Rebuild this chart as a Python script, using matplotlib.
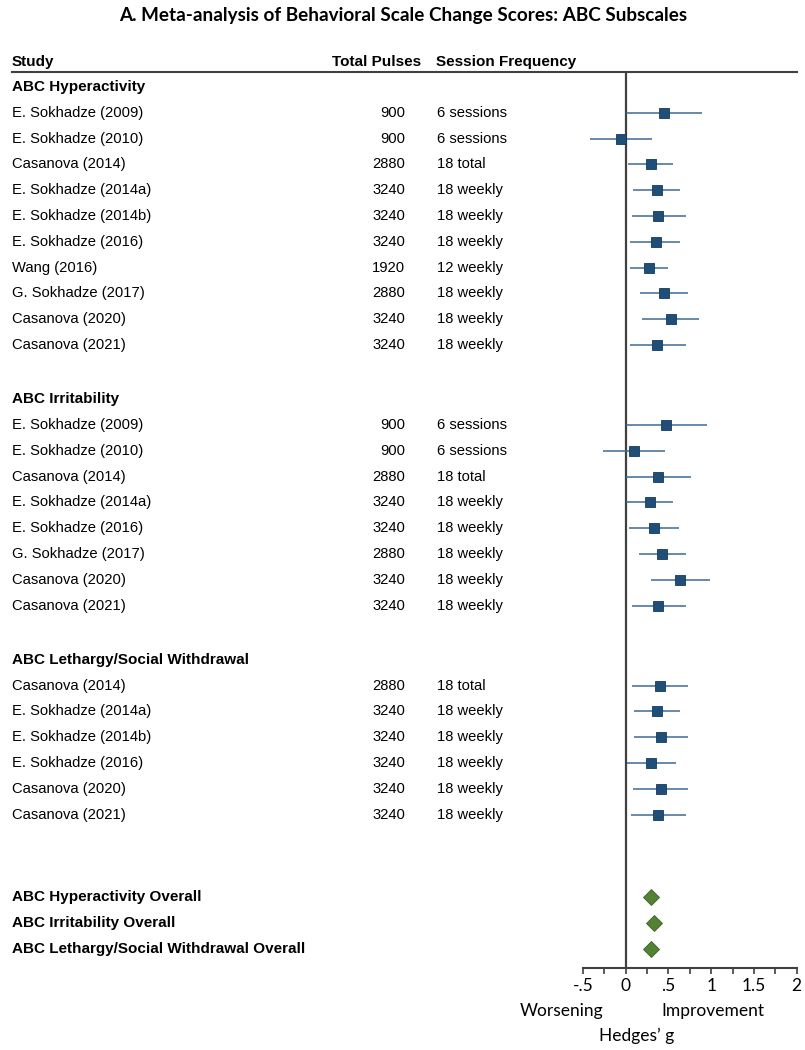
import matplotlib.pyplot as plt
import matplotlib.transforms as mtransforms
from matplotlib.lines import Line2D
import numpy as np

# ABC Hyperactivity
hyper_studies = ['E. Sokhadze (2009)', 'E. Sokhadze (2010)', 'Casanova (2014)',
                 'E. Sokhadze (2014a)', 'E. Sokhadze (2014b)', 'E. Sokhadze (2016)',
                 'Wang (2016)', 'G. Sokhadze (2017)', 'Casanova (2020)', 'Casanova (2021)']
hyper_pulses = [900, 900, 2880, 3240, 3240, 3240, 1920, 2880, 3240, 3240]
hyper_freq = ['6 sessions', '6 sessions', '18 total', '18 weekly', '18 weekly',
              '18 weekly', '12 weekly', '18 weekly', '18 weekly', '18 weekly']
hyper_g = [0.445, -0.06, 0.29, 0.36, 0.38, 0.35, 0.27, 0.45, 0.53, 0.37]
hyper_lo = [0.0, -0.42, 0.03, 0.09, 0.07, 0.05, 0.05, 0.17, 0.19, 0.05]
hyper_hi = [0.89, 0.31, 0.555, 0.63, 0.70, 0.64, 0.49, 0.73, 0.86, 0.70]

# ABC Irritability
irr_studies = ['E. Sokhadze (2009)', 'E. Sokhadze (2010)', 'Casanova (2014)',
               'E. Sokhadze (2014a)', 'E. Sokhadze (2016)', 'G. Sokhadze (2017)',
               'Casanova (2020)', 'Casanova (2021)']
irr_pulses = [900, 900, 2880, 3240, 3240, 2880, 3240, 3240]
irr_freq = ['6 sessions', '6 sessions', '18 total', '18 weekly', '18 weekly',
            '18 weekly', '18 weekly', '18 weekly']
irr_g = [0.47, 0.10, 0.38, 0.28, 0.33, 0.42, 0.63, 0.38]
irr_lo = [0.0, -0.27, 0.0, 0.0, 0.04, 0.15, 0.29, 0.07]
irr_hi = [0.945, 0.465, 0.765, 0.55, 0.625, 0.70, 0.98, 0.71]

# ABC Lethargy/Social Withdrawal
leth_studies = ['Casanova (2014)', 'E. Sokhadze (2014a)', 'E. Sokhadze (2014b)',
                'E. Sokhadze (2016)', 'Casanova (2020)', 'Casanova (2021)']
leth_pulses = [2880, 3240, 3240, 3240, 3240, 3240]
leth_freq = ['18 total', '18 weekly', '18 weekly', '18 weekly', '18 weekly', '18 weekly']
leth_g = [0.395, 0.37, 0.41, 0.30, 0.41, 0.375]
leth_lo = [0.07, 0.10, 0.094, 0.01, 0.086, 0.06]
leth_hi = [0.73, 0.64, 0.73, 0.59, 0.73, 0.70]

overall_labels = ['ABC Hyperactivity Overall', 'ABC Irritability Overall',
                  'ABC Lethargy/Social Withdrawal Overall']
overall_g = [0.30, 0.33, 0.30]

groups = [
    ('ABC Hyperactivity', hyper_studies, hyper_pulses, hyper_freq, hyper_g, hyper_lo, hyper_hi),
    ('ABC Irritability', irr_studies, irr_pulses, irr_freq, irr_g, irr_lo, irr_hi),
    ('ABC Lethargy/Social Withdrawal', leth_studies, leth_pulses, leth_freq, leth_g, leth_lo, leth_hi),
]

W, H = 805, 1050
fig = plt.figure(figsize=(W / 100, H / 100), dpi=100)
ax = fig.add_axes([583 / W, 1 - 968 / H, (796.7 - 583) / W, (968 - 71.7) / H])

tf = 'Liberation Sans'
fs = 10.6
fsb = 11
sq_col = '#1f4e79'
ln_col = '#3d6a96'
dia_col = '#548235'

trans = mtransforms.blended_transform_factory(fig.transFigure, ax.transData)

def fx(px):
    return px / W

r = 0.0
for title, studies, pulses, freq, g, lo, hi in groups:
    ax.text(fx(12), r, title, transform=trans, ha='left', va='center',
            fontsize=fsb, fontweight='bold', family=tf)
    rows = r + 1 + np.arange(len(studies))
    ax.hlines(rows, lo, hi, color=ln_col, lw=1.1, zorder=2)
    ax.plot(g, rows, 's', ms=7, color=sq_col, mec='#163a5c', mew=0.6, zorder=3)
    for yy, s, p, f in zip(rows, studies, pulses, freq):
        ax.text(fx(12), yy, s, transform=trans, ha='left', va='center', fontsize=fs, family=tf)
        ax.text(fx(405), yy, str(p), transform=trans, ha='right', va='center', fontsize=fs, family=tf)
        ax.text(fx(437), yy, f, transform=trans, ha='left', va='center', fontsize=fs, family=tf)
    r = rows[-1] + 2.1

rows = rows[-1] + 3.2 + np.arange(len(overall_labels))
ax.plot(overall_g, rows, 'D', ms=8, color=dia_col, mec='#3b6125', mew=0.6, zorder=3)
for yy, lab in zip(rows, overall_labels):
    ax.text(fx(12), yy, lab, transform=trans, ha='left', va='center',
            fontsize=fsb, fontweight='bold', family=tf)

# header
hy = -0.97
ax.text(fx(12), hy, 'Study', transform=trans, ha='left', va='center',
        fontsize=fsb, fontweight='bold', family=tf)
ax.text(fx(421), hy, 'Total Pulses', transform=trans, ha='right', va='center',
        fontsize=fsb, fontweight='bold', family=tf)
ax.text(fx(436), hy, 'Session Frequency', transform=trans, ha='left', va='center',
        fontsize=fsb, fontweight='bold', family=tf)
fig.add_artist(Line2D([fx(12), fx(796.7)], [1 - 71.7 / H, 1 - 71.7 / H],
                      transform=fig.transFigure, color='#404040', lw=1.5))

ax.set_xlim(-0.5, 2)
ax.set_ylim(34.15, -0.593)
ax.axvline(0, color='#404040', lw=1.6, zorder=1)
for s in ['top', 'right', 'left']:
    ax.spines[s].set_visible(False)
ax.spines['bottom'].set_color('#404040')
ax.spines['bottom'].set_linewidth(1.5)
ax.set_yticks([])
ax.set_xticks([-0.5, 0, 0.5, 1, 1.5, 2])
ax.set_xticklabels(['-.5', '0', '.5', '1', '1.5', '2'], family='Lato', fontsize=12.5)
ax.set_xticks(np.arange(-0.5, 2.01, 0.25), minor=True)
ax.tick_params(axis='x', which='both', length=4, width=1.2, color='#404040', pad=3)

fig.text(fx(562), 1 - 1011 / H, 'Worsening', ha='center', va='center', family='Lato', fontsize=12.5)
fig.text(fx(713), 1 - 1011 / H, 'Improvement', ha='center', va='center', family='Lato', fontsize=12.5)
fig.text(fx(637), 1 - 1036 / H, 'Hedges\u2019 g', ha='center', va='center', family='Lato', fontsize=12.5)
fig.text(fx(403), 1 - 15 / H, 'A. Meta-analysis of Behavioral Scale Change Scores: ABC Subscales',
         ha='center', va='center', family='Lato', fontweight='bold', fontsize=13.6)

fig.savefig('out.png', dpi=100)
